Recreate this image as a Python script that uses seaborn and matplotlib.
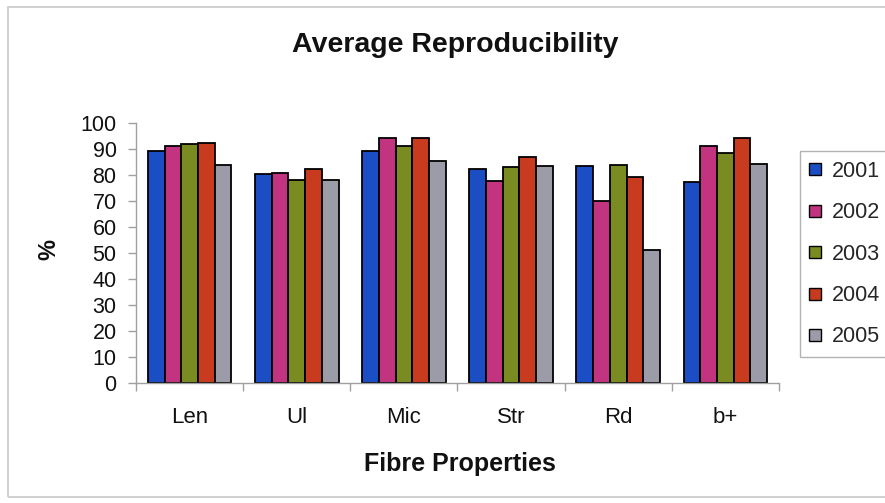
import numpy as np
import pandas as pd
import matplotlib
matplotlib.use("Agg")
import matplotlib.pyplot as plt
import seaborn as sns
from matplotlib.patches import Rectangle

# values
properties = ["Len", "Ul", "Mic", "Str", "Rd", "b+"]
years = ["2001", "2002", "2003", "2004", "2005"]
y2001 = [89.2, 80.3, 89.2, 82.2, 83.3, 77.3]
y2002 = [91.3, 80.8, 94.1, 77.8, 69.9, 91.0]
y2003 = [92.1, 78.0, 91.3, 83.1, 84.0, 88.6]
y2004 = [92.2, 82.2, 94.1, 86.8, 79.4, 94.4]
y2005 = [84.0, 78.1, 85.4, 83.3, 51.3, 84.2]
colors = ["#1b4ec4", "#c23480", "#7a8b22", "#c93b1f", "#9c9ca8"]

series = [y2001, y2002, y2003, y2004, y2005]
df = pd.DataFrame({
    "property": properties * len(years),
    "year": [y for y in years for _ in properties],
    "value": [v for s in series for v in s],
})

sns.set_theme(style="white")
plt.rcParams["font.family"] = ["Liberation Sans", "DejaVu Sans"]

fig = plt.figure(figsize=(8.85, 5.03), dpi=100)
ax = fig.add_axes([136 / 885, 1 - 383 / 503, 643 / 885, 260 / 503])

sns.barplot(data=df, x="property", y="value", hue="year", order=properties,
            hue_order=years, palette=colors, width=0.78, saturation=1,
            edgecolor="black", linewidth=1.3, ax=ax, legend=False)

ax.set_xlim(-0.5, len(properties) - 0.5)
ax.set_ylim(0, 100)
ax.set_yticks(np.arange(0, 101, 10))
ax.tick_params(axis="y", labelsize=15.5, length=6, width=1, color="#a0a0a0",
               left=True, pad=8, labelcolor="#111111")
ax.set_xticks(np.arange(-0.5, len(properties), 1), minor=True)
ax.tick_params(axis="x", which="minor", length=6, width=1, color="#a0a0a0", bottom=True)
ax.tick_params(axis="x", which="major", length=0, labelsize=16, pad=17, labelcolor="#111111")
for side in ["top", "right"]:
    ax.spines[side].set_visible(False)
for side in ["left", "bottom"]:
    ax.spines[side].set_color("#a0a0a0")
    ax.spines[side].set_linewidth(1)
ax.set_xlabel("")
ax.set_ylabel("")

fig.text(455 / 885, 1 - 45 / 503, "Average Reproducibility", ha="center", va="center",
         fontsize=20.5, fontweight="bold", color="#111111")
fig.text(460 / 885, 1 - 464 / 503, "Fibre Properties", ha="center", va="center",
         fontsize=18, fontweight="bold", color="#111111")
fig.text(49 / 885, 1 - 250 / 503, "%", ha="center", va="center", rotation=90,
         fontsize=17, fontweight="bold", color="#111111")

handles = [plt.Line2D([], [], marker="s", linestyle="", markersize=8,
                      markerfacecolor=c, markeredgecolor="black", markeredgewidth=1)
           for c in colors]
leg = fig.legend(handles, years, loc="upper left", bbox_to_anchor=(800 / 885, 1 - 151 / 503),
                 fontsize=15.5, frameon=True, fancybox=False, labelspacing=0.95,
                 handletextpad=0.55, handlelength=0.5, borderpad=0.45, borderaxespad=0)
leg.get_frame().set_edgecolor("#a0a0a0")
leg.get_frame().set_linewidth(1)

fig.patches.append(Rectangle((8 / 885, 1 - 497 / 503), 1.0, 490 / 503, transform=fig.transFigure,
                             fill=False, edgecolor="#c8c8c8", linewidth=1.2))

fig.savefig("out.png", dpi=100)
